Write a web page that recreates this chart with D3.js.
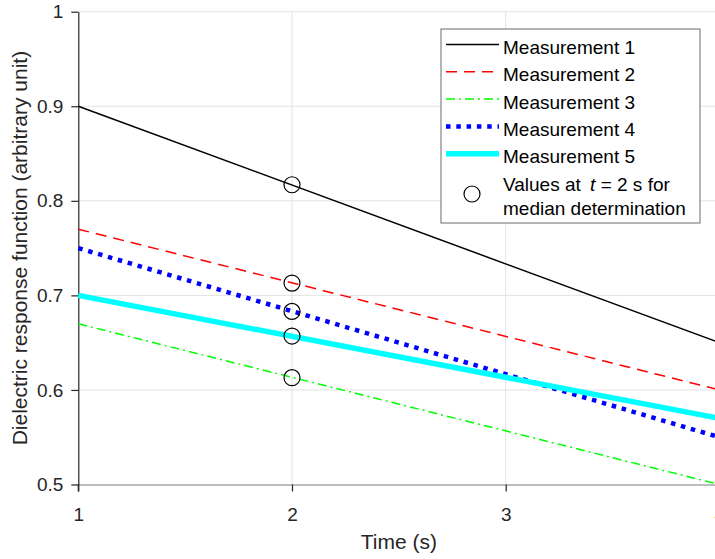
<!DOCTYPE html>
<html>
<head>
<meta charset="utf-8">
<script src="https://cdn.jsdelivr.net/npm/d3@7"></script>
<style>
  html, body { margin: 0; padding: 0; background: #fff; }
  svg { display: block; font-family: "Liberation Sans", Arial, sans-serif; }
</style>
</head>
<body>
<svg id="chart" width="715" height="559"></svg>
<script>
// Time samples (s) and the dielectric response of each measurement
const times = [1, 4];
const measurement1 = [0.90, 0.65];
const measurement2 = [0.77, 0.60];
const measurement3 = [0.67, 0.50];
const measurement4 = [0.75, 0.55];
const measurement5 = [0.70, 0.57];

const seriesNames = ["Measurement 1", "Measurement 2", "Measurement 3", "Measurement 4", "Measurement 5"];

// Values picked at t = 2 s for the median
const markerTime = 2;
const markerValues = [0.817, 0.713, 0.613, 0.683, 0.657];

const xTicks = [1, 2, 3, 4];
const xTickLabels = ["1", "2", "3", "4"];
const yTicks = [0.5, 0.6, 0.7, 0.8, 0.9, 1];
const yTickLabels = ["0.5", "0.6", "0.7", "0.8", "0.9", "1"];

const styles = [
  { color: "#000000", width: 1.5, dash: null, cap: "butt" },
  { color: "#ff0000", width: 1.5, dash: "11,7", cap: "butt" },
  { color: "#00ff00", width: 1.5, dash: "9,4,2,4", cap: "butt" },
  { color: "#0000ff", width: 4.5, dash: "4.5,5.8", cap: "butt" },
  { color: "#00ffff", width: 5.5, dash: null, cap: "butt" }
];

const series = [measurement1, measurement2, measurement3, measurement4, measurement5];

const svg = d3.select("#chart");
const axisColor = "#262626";

const x = d3.scaleLinear().domain([1, 4]).range([78.3, 719.4]);
const y = d3.scaleLinear().domain([0.5, 1]).range([484.5, 11.7]);

// grid
const grid = svg.append("g").attr("class", "grid");
grid.selectAll("line.gx").data(xTicks.filter(t => t > 1)).join("line")
  .attr("x1", d => x(d)).attr("x2", d => x(d))
  .attr("y1", y(0.5)).attr("y2", y(1))
  .attr("stroke", "#e3e3e3").attr("stroke-width", 1);
grid.selectAll("line.gy").data(yTicks.filter(t => t > 0.5)).join("line")
  .attr("x1", x(1)).attr("x2", x(4))
  .attr("y1", d => y(d)).attr("y2", d => y(d))
  .attr("stroke", "#e3e3e3").attr("stroke-width", 1);

// axes
const xAxis = svg.append("g")
  .attr("transform", `translate(0,${y(0.5)})`)
  .call(d3.axisBottom(x).tickValues(xTicks)
    .tickFormat((d, i) => xTickLabels[i])
    .tickSize(7).tickSizeOuter(0).tickPadding(16));
xAxis.select(".domain").attr("stroke", "#7a7a7a").attr("stroke-width", 1.2);

const yAxis = svg.append("g")
  .attr("transform", `translate(${x(1)},0)`)
  .call(d3.axisLeft(y).tickValues(yTicks)
    .tickFormat((d, i) => yTickLabels[i])
    .tickSize(7).tickSizeOuter(0).tickPadding(8));
yAxis.select(".domain").attr("stroke", axisColor).attr("stroke-width", 1.2);

[xAxis, yAxis].forEach(g => {
  g.selectAll(".tick line").attr("stroke", axisColor).attr("stroke-width", 1.2);
  g.selectAll(".tick text").attr("fill", axisColor)
    .attr("font-size", 19).attr("font-family", "'Liberation Sans', Arial, sans-serif");
});
// extend y axis line below to meet the x tick at t = 1
yAxis.append("line").attr("x1", 0).attr("x2", 0)
  .attr("y1", y(0.5)).attr("y2", y(0.5) + 7)
  .attr("stroke", axisColor).attr("stroke-width", 1.2);

// axis titles
svg.append("text")
  .attr("x", (x(1) + x(4)) / 2).attr("y", 549)
  .attr("text-anchor", "middle").attr("font-size", 21).attr("fill", axisColor)
  .text("Time (s)");
svg.append("text")
  .attr("transform", `translate(27,${(y(0.5) + y(1)) / 2}) rotate(-90)`)
  .attr("text-anchor", "middle").attr("font-size", 21).attr("fill", axisColor)
  .text("Dielectric response function (arbitrary unit)");

// series lines
const line = d3.line().x(d => x(d[0])).y(d => y(d[1]));
series.forEach((vals, i) => {
  const pts = times.map((t, j) => [t, vals[j]]);
  const s = styles[i];
  svg.append("path").datum(pts)
    .attr("d", line)
    .attr("fill", "none")
    .attr("stroke", s.color)
    .attr("stroke-width", s.width)
    .attr("stroke-linecap", s.cap)
    .attr("stroke-dasharray", s.dash);
});

// markers at t = 2 s
svg.selectAll("circle.marker").data(markerValues).join("circle")
  .attr("class", "marker")
  .attr("cx", x(markerTime)).attr("cy", d => y(d)).attr("r", 8)
  .attr("fill", "none").attr("stroke", "#000").attr("stroke-width", 1.2);

// legend
const legend = svg.append("g");
legend.append("rect")
  .attr("x", 441).attr("y", 29).attr("width", 259).attr("height", 194)
  .attr("fill", "#fff").attr("stroke", "#6b6b6b").attr("stroke-width", 1);

const rowBase = 54, rowStep = 27.3;
seriesNames.forEach((name, i) => {
  const yb = rowBase + i * rowStep;
  const s = styles[i];
  legend.append("line")
    .attr("x1", 446).attr("x2", 499)
    .attr("y1", yb - 9.5).attr("y2", yb - 9.5)
    .attr("stroke", s.color).attr("stroke-width", s.width)
    .attr("stroke-linecap", s.cap)
    .attr("stroke-dasharray", s.dash);
  legend.append("text")
    .attr("x", 503).attr("y", yb)
    .attr("font-size", 19).attr("fill", "#000")
    .text(name);
});
legend.append("circle")
  .attr("cx", 472).attr("cy", 194).attr("r", 8)
  .attr("fill", "none").attr("stroke", "#000").attr("stroke-width", 1.2);
const t1 = legend.append("text").attr("x", 503).attr("y", 190.7)
  .attr("font-size", 19).attr("fill", "#000");
t1.append("tspan").text("Values at ");
t1.append("tspan").attr("font-style", "italic").attr("dx", 4).text("t");
t1.append("tspan").text(" = 2 s for");
legend.append("text").attr("x", 503).attr("y", 215)
  .attr("font-size", 19).attr("fill", "#000")
  .text("median determination");
</script>
</body>
</html>
